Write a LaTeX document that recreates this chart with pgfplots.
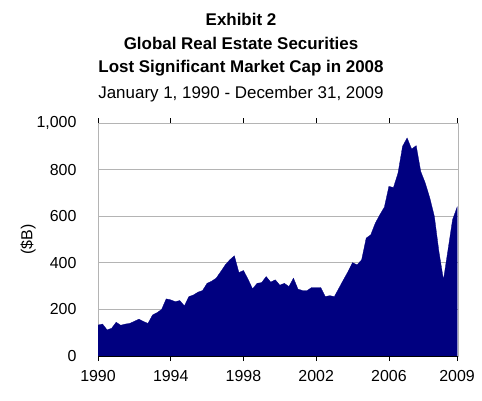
\documentclass[border=0pt]{standalone}
\usepackage{pgfplots}
\pgfplotsset{compat=1.18}
\usepackage{fontspec}
\setmainfont{Liberation Sans}
\definecolor{navyfill}{HTML}{000080}
\definecolor{gridgray}{HTML}{B4B4B4}
\begin{document}
\begin{tikzpicture}[x=1bp,y=1bp]
\path[use as bounding box] (0,0) rectangle (482,400);
\node[font=\bfseries\fontsize{17}{19}\selectfont] at (241,381) {Exhibit 2};
\node[font=\bfseries\fontsize{17}{19}\selectfont] at (241,357) {Global Real Estate Securities};
\node[font=\bfseries\fontsize{17}{19}\selectfont] at (241,332) {Lost Significant Market Cap in 2008};
\node[font=\fontsize{17}{19}\selectfont] at (241,306) {January 1, 1990 - December 31, 2009};
\begin{axis}[
  at={(98bp,44bp)}, anchor=south west,
  scale only axis, width=360bp, height=233bp,
  xmin=0, xmax=79.2, ymin=0, ymax=1000,
  xtick={0,16,32,48,64,79},
  xticklabels={1990,1994,1998,2002,2006,2009},
  ytick={0,200,400,600,800,1000},
  yticklabels={0,200,400,600,800,{1,000}},
  ymajorgrids, grid style={gridgray, line width=0.8pt},
  axis line style={gridgray, line width=0.8pt},
  tick align=outside, major tick length=5bp,
  xtick style={black, line width=0.8pt},
  ytick style={draw=none},
  ticklabel style={font=\fontsize{16}{18}\selectfont},
  xticklabel style={yshift=-6bp},
  yticklabel style={xshift=-13bp},
  ylabel={(\$B)}, ylabel style={font=\fontsize{16}{18}\selectfont, yshift=-6bp},
]
\addplot[fill=navyfill, draw=navyfill, line width=0.3pt] table {
x y
0 133
1 137
2 112
3 119
4 145
5 132
6 137
7 140
8 149
9 158
10 148
11 140
12 176
13 186
14 200
15 245
16 241
17 233
18 238
19 215
20 255
21 262
22 274
23 281
24 312
25 321
26 334
27 362
28 391
29 413
30 430
31 358
32 367
33 330
34 288
35 312
36 315
37 341
38 317
39 327
40 304
41 312
42 298
43 334
44 287
45 281
46 281
47 294
48 294
49 294
50 255
51 259
52 255
53 291
54 327
55 362
56 401
57 391
58 413
59 506
60 520
61 570
62 606
63 639
64 728
65 723
66 785
67 900
68 936
69 888
70 903
71 792
72 742
73 678
74 599
75 448
76 327
77 456
78 585
79 639
} \closedcycle;
\draw[black, line width=0.8pt] (axis cs:0,0) -- (axis cs:79.2,0);
\end{axis}
\end{tikzpicture}
\end{document}
